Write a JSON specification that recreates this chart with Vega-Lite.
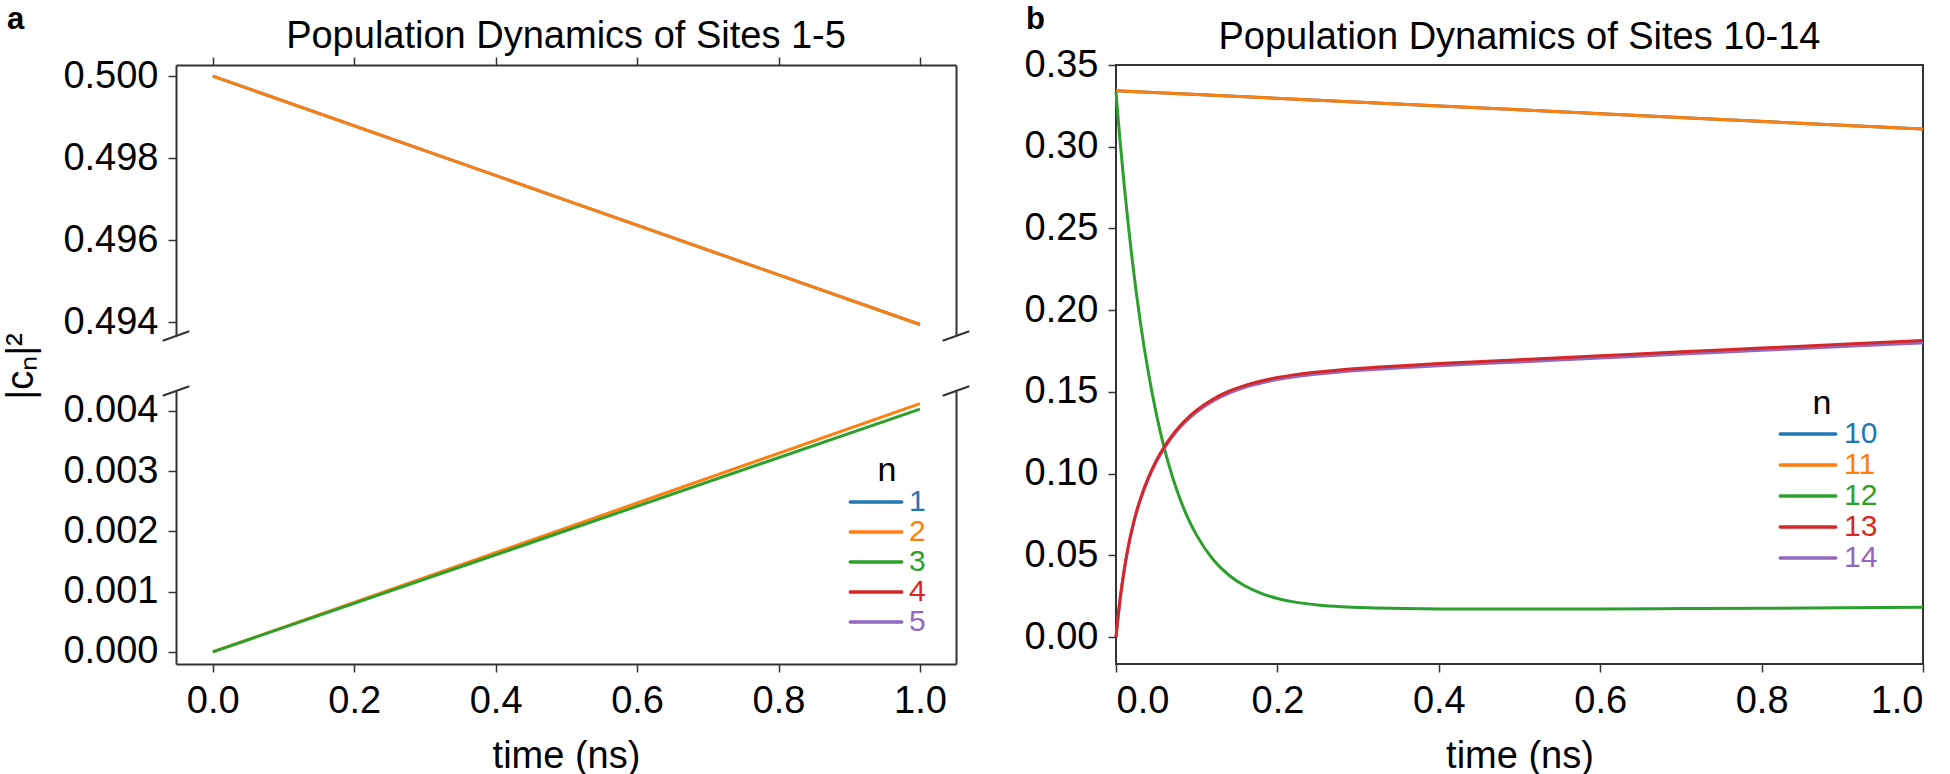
{
  "$schema": "https://vega.github.io/schema/vega-lite/v6.json",
  "padding": {"left": 2, "top": 4, "right": 0, "bottom": 0},
  "background": "white",
  "config": {
    "font": "Liberation Sans",
    "view": {"stroke": null},
    "axis": {
      "labelFont": "Liberation Sans", "labelFontSize": 38, "labelColor": "black",
      "titleFont": "Liberation Sans", "titleFontSize": 38, "titleFontWeight": "normal", "titleColor": "black",
      "domainColor": "#333", "domainWidth": 2, "tickColor": "#333", "tickWidth": 1.5, "tickSize": 8,
      "labelPadding": 10, "grid": false
    },
    "title": {"font": "Liberation Sans", "fontSize": 38, "fontWeight": "normal", "color": "black"},
    "legend": {
      "orient": "none", "padding": 0, "titleFont": "Liberation Sans", "titleFontSize": 34, "titleFontWeight": "normal",
      "titleColor": "black", "titleAnchor": "middle", "labelFont": "Liberation Sans", "labelFontSize": 30,
      "symbolType": "M-2,0L2,0", "symbolStrokeWidth": 3.5, "rowPadding": 0
    }
  },
  "datasets": {
    "aTop": [
      {"t": 0, "p": 0.5, "n": "1"}, {"t": 0.5, "p": 0.49697, "n": "1"}, {"t": 1.0, "p": 0.49394, "n": "1"},
      {"t": 0, "p": 0.5, "n": "2"}, {"t": 0.5, "p": 0.49697, "n": "2"}, {"t": 1.0, "p": 0.49394, "n": "2"}
    ],
    "aTopCorners": [{"t": -0.052, "p": 0.49366}, {"t": 1.051, "p": 0.49366}],
    "aBottom": [
      {"t": 0, "p": 0.0, "n": "2"}, {"t": 0.5, "p": 0.00206, "n": "2"}, {"t": 1.0, "p": 0.00412, "n": "2"},
      {"t": 0, "p": 0.0, "n": "3"}, {"t": 0.5, "p": 0.002015, "n": "3"}, {"t": 1.0, "p": 0.00403, "n": "3"}
    ],
    "aBottomCorners": [{"t": -0.052, "p": 0.00433}, {"t": 1.051, "p": 0.00433}],
    "b": [
      {"t": 0, "p": 0.3343, "n": "10"}, {"t": 0.25, "p": 0.3284, "n": "10"}, {"t": 0.5, "p": 0.3226, "n": "10"}, {"t": 0.75, "p": 0.3167, "n": "10"}, {"t": 1.0, "p": 0.3108, "n": "10"},
      {"t": 0, "p": 0.3343, "n": "11"}, {"t": 0.25, "p": 0.3284, "n": "11"}, {"t": 0.5, "p": 0.3226, "n": "11"}, {"t": 0.75, "p": 0.3167, "n": "11"}, {"t": 1.0, "p": 0.3108, "n": "11"},
      {"t": 0, "p": 0.3332, "n": "12"}, {"t": 0.005, "p": 0.3038, "n": "12"}, {"t": 0.01, "p": 0.2772, "n": "12"}, {"t": 0.02, "p": 0.2312, "n": "12"},
      {"t": 0.03, "p": 0.1932, "n": "12"}, {"t": 0.04, "p": 0.1621, "n": "12"}, {"t": 0.05, "p": 0.1364, "n": "12"}, {"t": 0.06, "p": 0.1153, "n": "12"},
      {"t": 0.07, "p": 0.0979, "n": "12"}, {"t": 0.08, "p": 0.0836, "n": "12"}, {"t": 0.09, "p": 0.0718, "n": "12"}, {"t": 0.1, "p": 0.0622, "n": "12"},
      {"t": 0.12, "p": 0.0476, "n": "12"}, {"t": 0.14, "p": 0.0378, "n": "12"}, {"t": 0.16, "p": 0.0312, "n": "12"}, {"t": 0.18, "p": 0.0267, "n": "12"},
      {"t": 0.2, "p": 0.0236, "n": "12"}, {"t": 0.22, "p": 0.0215, "n": "12"}, {"t": 0.25, "p": 0.0196, "n": "12"}, {"t": 0.28, "p": 0.0185, "n": "12"},
      {"t": 0.32, "p": 0.0178, "n": "12"}, {"t": 0.36, "p": 0.0174, "n": "12"}, {"t": 0.4, "p": 0.0172, "n": "12"}, {"t": 0.5, "p": 0.0171, "n": "12"},
      {"t": 0.6, "p": 0.0172, "n": "12"}, {"t": 0.7, "p": 0.0174, "n": "12"}, {"t": 0.8, "p": 0.0176, "n": "12"}, {"t": 0.9, "p": 0.0179, "n": "12"}, {"t": 1.0, "p": 0.0182, "n": "12"},
      {"t": 0, "p": 0.0, "n": "14"}, {"t": 0.0025, "p": 0.0121, "n": "14"}, {"t": 0.005, "p": 0.0227, "n": "14"}, {"t": 0.01, "p": 0.0403, "n": "14"},
      {"t": 0.015, "p": 0.0545, "n": "14"}, {"t": 0.02, "p": 0.0659, "n": "14"}, {"t": 0.025, "p": 0.0755, "n": "14"}, {"t": 0.03, "p": 0.0835, "n": "14"},
      {"t": 0.04, "p": 0.0967, "n": "14"}, {"t": 0.05, "p": 0.1072, "n": "14"}, {"t": 0.06, "p": 0.1156, "n": "14"}, {"t": 0.07, "p": 0.1226, "n": "14"},
      {"t": 0.08, "p": 0.1286, "n": "14"}, {"t": 0.09, "p": 0.1335, "n": "14"}, {"t": 0.1, "p": 0.1377, "n": "14"}, {"t": 0.12, "p": 0.1443, "n": "14"},
      {"t": 0.14, "p": 0.1492, "n": "14"}, {"t": 0.16, "p": 0.1528, "n": "14"}, {"t": 0.18, "p": 0.1554, "n": "14"}, {"t": 0.2, "p": 0.1575, "n": "14"},
      {"t": 0.22, "p": 0.1591, "n": "14"}, {"t": 0.25, "p": 0.1609, "n": "14"}, {"t": 0.28, "p": 0.1623, "n": "14"}, {"t": 0.32, "p": 0.1637, "n": "14"},
      {"t": 0.36, "p": 0.1649, "n": "14"}, {"t": 0.4, "p": 0.166, "n": "14"}, {"t": 0.5, "p": 0.1683, "n": "14"}, {"t": 0.6, "p": 0.1707, "n": "14"},
      {"t": 0.7, "p": 0.1731, "n": "14"}, {"t": 0.8, "p": 0.1754, "n": "14"}, {"t": 0.9, "p": 0.1778, "n": "14"}, {"t": 1.0, "p": 0.18, "n": "14"},
      {"t": 0, "p": 0.0, "n": "13"}, {"t": 0.0025, "p": 0.0122, "n": "13"}, {"t": 0.005, "p": 0.0229, "n": "13"}, {"t": 0.01, "p": 0.0406, "n": "13"},
      {"t": 0.015, "p": 0.0549, "n": "13"}, {"t": 0.02, "p": 0.0664, "n": "13"}, {"t": 0.025, "p": 0.0761, "n": "13"}, {"t": 0.03, "p": 0.0842, "n": "13"},
      {"t": 0.04, "p": 0.0975, "n": "13"}, {"t": 0.05, "p": 0.1081, "n": "13"}, {"t": 0.06, "p": 0.1165, "n": "13"}, {"t": 0.07, "p": 0.1236, "n": "13"},
      {"t": 0.08, "p": 0.1296, "n": "13"}, {"t": 0.09, "p": 0.1346, "n": "13"}, {"t": 0.1, "p": 0.1388, "n": "13"}, {"t": 0.12, "p": 0.1455, "n": "13"},
      {"t": 0.14, "p": 0.1504, "n": "13"}, {"t": 0.16, "p": 0.154, "n": "13"}, {"t": 0.18, "p": 0.1567, "n": "13"}, {"t": 0.2, "p": 0.1588, "n": "13"},
      {"t": 0.22, "p": 0.1604, "n": "13"}, {"t": 0.25, "p": 0.1622, "n": "13"}, {"t": 0.28, "p": 0.1636, "n": "13"}, {"t": 0.32, "p": 0.165, "n": "13"},
      {"t": 0.36, "p": 0.1662, "n": "13"}, {"t": 0.4, "p": 0.1673, "n": "13"}, {"t": 0.5, "p": 0.1697, "n": "13"}, {"t": 0.6, "p": 0.1721, "n": "13"},
      {"t": 0.7, "p": 0.1745, "n": "13"}, {"t": 0.8, "p": 0.1768, "n": "13"}, {"t": 0.9, "p": 0.1792, "n": "13"}, {"t": 1.0, "p": 0.1815, "n": "13"}
    ]
  },
  "hconcat": [
    {
      "title": {"text": "a", "anchor": "start", "frame": "group", "fontWeight": "bold", "fontSize": 31, "dx": -169, "dy": 22},
      "spacing": 55,
      "bounds": "flush",
      "resolve": {"scale": {"color": "shared"}, "legend": {"color": "independent"}},
      "vconcat": [
        {
          "width": 780,
          "height": 271,
          "title": {"text": "Population Dynamics of Sites 1-5", "offset": 0},
          "resolve": {"axis": {"x": "independent", "y": "independent"}},
          "layer": [
            {
              "data": {"name": "aTop"},
              "mark": {"type": "line", "strokeWidth": 3},
              "encoding": {
                "x": {"field": "t", "type": "quantitative", "scale": {"domain": [-0.052, 1.051], "nice": false, "zero": false},
                      "axis": {"orient": "top", "labels": false, "values": [0, 0.2, 0.4, 0.6, 0.8, 1.0], "title": null}},
                "y": {"field": "p", "type": "quantitative", "scale": {"domain": [0.49366, 0.50027], "nice": false, "zero": false},
                      "axis": {"orient": "left", "values": [0.494, 0.496, 0.498, 0.5], "format": ".3f",
                               "title": "|cₙ|²", "titleFontSize": 38, "titleAngle": -90, "titleX": -144, "titleY": 301,
                               "titleAlign": "center", "titleBaseline": "alphabetic"}},
                "color": {"field": "n", "type": "nominal",
                          "scale": {"domain": ["1", "2", "3", "4", "5", "10", "11", "12", "13", "14"],
                                    "range": ["#1f77b4", "#ff7f0e", "#2ca02c", "#d62728", "#9467bd", "#1f77b4", "#ff7f0e", "#2ca02c", "#d62728", "#9467bd"]},
                          "legend": null}
              }
            },
            {
              "data": {"name": "aTop"},
              "mark": {"type": "line", "opacity": 0},
              "encoding": {
                "x": {"field": "t", "type": "quantitative", "axis": null},
                "y": {"field": "p", "type": "quantitative",
                      "axis": {"orient": "right", "labels": false, "ticks": false, "title": null}}
              }
            },
            {
              "data": {"name": "aTopCorners"},
              "mark": {"type": "point", "shape": "M-1,0.36L1,-0.36", "size": 708, "filled": false, "stroke": "#333", "strokeWidth": 2, "opacity": 1},
              "encoding": {
                "x": {"field": "t", "type": "quantitative", "axis": null},
                "y": {"field": "p", "type": "quantitative", "axis": null}
              }
            }
          ]
        },
        {
          "width": 780,
          "height": 273,
          "resolve": {"axis": {"x": "independent", "y": "independent"}},
          "layer": [
            {
              "data": {"name": "aBottom"},
              "mark": {"type": "line", "strokeWidth": 3},
              "encoding": {
                "x": {"field": "t", "type": "quantitative", "scale": {"domain": [-0.052, 1.051], "nice": false, "zero": false},
                      "axis": {"orient": "bottom", "values": [0, 0.2, 0.4, 0.6, 0.8, 1.0], "format": ".1f", "title": "time (ns)", "titlePadding": 17}},
                "y": {"field": "p", "type": "quantitative", "scale": {"domain": [-0.0002, 0.00433], "nice": false, "zero": false},
                      "axis": {"orient": "left", "values": [0, 0.001, 0.002, 0.003, 0.004], "format": ".3f", "title": null}},
                "color": {"field": "n", "type": "nominal",
                          "scale": {"domain": ["1", "2", "3", "4", "5", "10", "11", "12", "13", "14"],
                                    "range": ["#1f77b4", "#ff7f0e", "#2ca02c", "#d62728", "#9467bd", "#1f77b4", "#ff7f0e", "#2ca02c", "#d62728", "#9467bd"]},
                          "legend": {"title": "n", "values": ["1", "2", "3", "4", "5"], "legendX": 685, "legendY": 63, "symbolSize": 663,
                                     "labelOffset": 18, "titlePadding": -1,
                                     "encode": {"labels": {"update": {"fill": {"scale": "color", "field": "value"}}},
                                                "symbols": {"update": {"strokeCap": {"value": "round"}}},
                                                "title": {"update": {"dx": {"value": -6}}}}}}
              }
            },
            {
              "data": {"name": "aBottom"},
              "mark": {"type": "line", "opacity": 0},
              "encoding": {
                "x": {"field": "t", "type": "quantitative", "axis": null},
                "y": {"field": "p", "type": "quantitative",
                      "axis": {"orient": "right", "labels": false, "ticks": false, "title": null}}
              }
            },
            {
              "data": {"name": "aBottomCorners"},
              "mark": {"type": "point", "shape": "M-1,0.36L1,-0.36", "size": 708, "filled": false, "stroke": "#333", "strokeWidth": 2, "opacity": 1},
              "encoding": {
                "x": {"field": "t", "type": "quantitative", "axis": null},
                "y": {"field": "p", "type": "quantitative", "axis": null}
              }
            }
          ]
        }
      ]
    },
    {
      "title": {"text": "b", "anchor": "start", "frame": "group", "fontWeight": "bold", "fontSize": 31, "dx": -90, "dy": 22},
      "resolve": {"scale": {"color": "shared"}, "legend": {"color": "independent"}},
      "vconcat": [
        {
          "width": 807,
          "height": 599,
          "view": {"stroke": "#333", "strokeWidth": 2},
          "title": {"text": "Population Dynamics of Sites 10-14", "offset": -11},
          "data": {"name": "b"},
          "mark": {"type": "line", "strokeWidth": 3, "interpolate": "monotone"},
          "encoding": {
            "x": {"field": "t", "type": "quantitative", "scale": {"domain": [0, 1], "nice": false, "zero": false},
                  "axis": {"values": [0, 0.2, 0.4, 0.6, 0.8, 1.0], "format": ".1f", "title": "time (ns)", "titlePadding": 17, "domain": false}},
            "y": {"field": "p", "type": "quantitative", "scale": {"domain": [-0.0165, 0.35], "nice": false, "zero": false},
                  "axis": {"values": [0, 0.05, 0.1, 0.15, 0.2, 0.25, 0.3, 0.35], "format": ".2f", "title": null, "domain": false}},
            "color": {"field": "n", "type": "nominal",
                      "scale": {"domain": ["1", "2", "3", "4", "5", "10", "11", "12", "13", "14"],
                                "range": ["#1f77b4", "#ff7f0e", "#2ca02c", "#d62728", "#9467bd", "#1f77b4", "#ff7f0e", "#2ca02c", "#d62728", "#9467bd"]},
                      "legend": {"title": "n", "values": ["10", "11", "12", "13", "14"], "legendX": 676, "legendY": 322, "symbolSize": 770,
                                 "labelOffset": 20, "titlePadding": -3,
                                 "encode": {"labels": {"update": {"fill": {"scale": "color", "field": "value"}}},
                                            "symbols": {"update": {"strokeCap": {"value": "round"}}},
                                            "title": {"update": {"dx": {"value": -13}}}}}}
          }
        }
      ]
    }
  ],
  "spacing": 49,
  "resolve": {"scale": {"color": "shared"}, "legend": {"color": "independent"}}
}
